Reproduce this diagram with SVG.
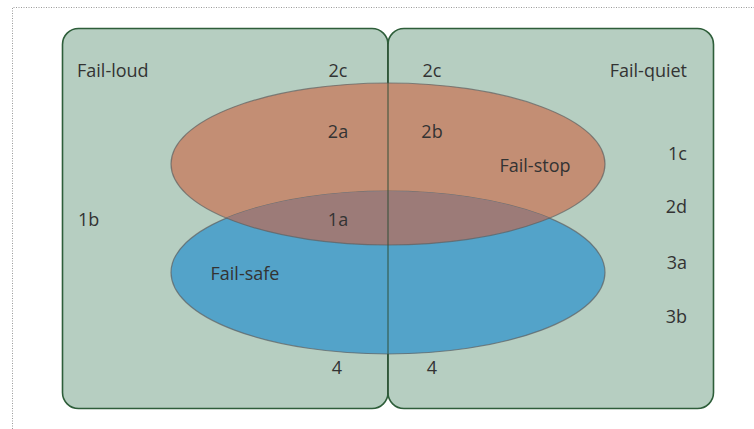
<svg xmlns="http://www.w3.org/2000/svg" width="754" height="429" viewBox="0 0 754 429">
  <style>
    .box { fill: #b6cec1; stroke: #2e5e3a; stroke-width: 1.6; }
    .ell { stroke: #5f5f5f; stroke-opacity: 0.7; stroke-width: 1.2; }
    text { font-family: "Open Sans", "Noto Sans", "DejaVu Sans", sans-serif; font-size: 18px; fill: #333333; }
    .end { text-anchor: end; }
    .mid { text-anchor: middle; }
  </style>
  <defs>
    <clipPath id="clipSafe">
      <ellipse cx="388" cy="272.5" rx="217" ry="81.5"/>
    </clipPath>
  </defs>
  <rect width="754" height="429" fill="#ffffff"/>
  <path d="M12.5,429 V7.5 H754" fill="none" stroke="#9a9a9a" stroke-width="1" stroke-dasharray="1,1.5"/>

  <g id="fail-loud">
    <rect class="box" x="62.5" y="28.5" width="325.5" height="380" rx="16" ry="16"/>
  </g>
  <g id="fail-quiet">
    <rect class="box" x="388" y="28.5" width="325.5" height="380" rx="16" ry="16"/>
  </g>

  <g id="fail-stop">
    <ellipse class="ell" cx="388" cy="164" rx="217" ry="81" fill="#c38e74"/>
  </g>
  <g id="fail-safe">
    <ellipse class="ell" cx="388" cy="272.5" rx="217" ry="81.5" fill="#53a3c9"/>
  </g>
  <g id="stop-safe-overlap">
    <ellipse class="ell" cx="388" cy="164" rx="217" ry="81" fill="#9c7b78" clip-path="url(#clipSafe)"/>
  </g>

  <g id="divider">
    <line x1="388" y1="43" x2="388" y2="394" stroke="#2e4e35" stroke-opacity="0.75" stroke-width="1.3"/>
  </g>

  <g id="labels">
    <text x="77" y="77">Fail-loud</text>
    <text x="687" y="77" class="end">Fail-quiet</text>
    <text x="535" y="172" class="mid">Fail-stop</text>
    <text x="245" y="280" class="mid">Fail-safe</text>
    <text x="338" y="77" class="mid">2c</text>
    <text x="432" y="77" class="mid">2c</text>
    <text x="338" y="138" class="mid">2a</text>
    <text x="432" y="138" class="mid">2b</text>
    <text x="687" y="160" class="end">1c</text>
    <text x="687" y="213" class="end">2d</text>
    <text x="78" y="226">1b</text>
    <text x="338" y="226" class="mid">1a</text>
    <text x="687" y="269" class="end">3a</text>
    <text x="687" y="323" class="end">3b</text>
    <text x="337" y="374" class="mid">4</text>
    <text x="432" y="374" class="mid">4</text>
  </g>
</svg>
